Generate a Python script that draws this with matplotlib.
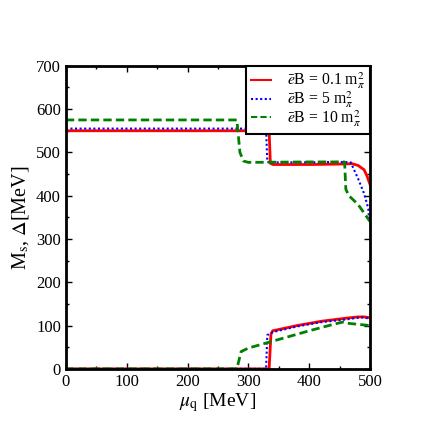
import matplotlib
matplotlib.use("Agg")
import matplotlib.pyplot as plt
from matplotlib.ticker import MultipleLocator

plt.rcParams['font.family'] = ['Liberation Serif', 'DejaVu Serif']
plt.rcParams['mathtext.fontset'] = 'stix'

# eB = 0.1 m_pi^2
mu_red_M = [0, 100, 200, 300, 334, 336, 340, 400, 450, 470, 480, 490, 495, 500]
M_red = [550, 550, 550, 550, 550, 475, 472, 472, 473, 474, 470, 460, 445, 425]
mu_red_D = [0, 100, 200, 300, 334, 337, 340, 380, 420, 460, 480, 490, 500]
D_red = [0, 0, 0, 0, 0, 80, 88, 100, 110, 117, 120, 120, 118]

# eB = 5 m_pi^2
mu_blue_M = [0, 100, 200, 300, 329, 331, 340, 400, 450, 468, 480, 490, 497, 498, 500]
M_blue = [555, 555, 555, 555, 555, 478, 477, 477, 478, 477, 440, 405, 370, 345, 340]
mu_blue_D = [0, 100, 200, 300, 329, 331, 340, 380, 420, 460, 480, 490, 500]
D_blue = [0, 0, 0, 0, 0, 78, 85, 98, 108, 114, 118, 119, 115]

# eB = 10 m_pi^2
mu_green_M = [0, 100, 200, 281, 283, 286, 292, 300, 400, 458, 460, 465, 480, 500]
M_green = [575, 575, 575, 575, 545, 500, 480, 477, 478, 478, 415, 400, 380, 340]
mu_green_D = [0, 100, 200, 281, 288, 300, 350, 400, 440, 455, 465, 500]
D_green = [0, 0, 0, 0, 40, 48, 68, 88, 103, 108, 105, 100]

fig = plt.figure(figsize=(4.36, 4.36), dpi=100)
ax = fig.add_axes([0.151, 0.154, 0.698, 0.695])

ax.plot(mu_red_M, M_red, color='red', lw=2, label=r'$\bar{e}$B = 0.1 m$_\pi^2$')
ax.plot(mu_red_D, D_red, color='red', lw=2)
ax.plot(mu_blue_M, M_blue, color='blue', lw=1.5, ls=(0, (1, 1.2)), label=r'$\bar{e}$B = 5 m$_\pi^2$')
ax.plot(mu_blue_D, D_blue, color='blue', lw=1.5, ls=(0, (1, 1.2)))
ax.plot(mu_green_M, M_green, color='green', lw=2, ls=(0, (3, 1.5)), label=r'$\bar{e}$B = 10 m$_\pi^2$')
ax.plot(mu_green_D, D_green, color='green', lw=2, ls=(0, (3, 1.5)))

ax.set_xlim(0, 500)
ax.set_ylim(0, 700)
ax.xaxis.set_major_locator(MultipleLocator(100))
ax.xaxis.set_minor_locator(MultipleLocator(50))
ax.yaxis.set_major_locator(MultipleLocator(100))
ax.yaxis.set_minor_locator(MultipleLocator(50))
ax.tick_params(which='both', direction='in', top=True, right=True, labelsize=12)
ax.tick_params(which='major', length=4, width=1)
ax.tick_params(which='minor', length=2, width=1)
for s in ax.spines.values():
    s.set_linewidth(2)

ax.set_xlabel(r'$\mu_{\rm q}$ [MeV]', fontsize=14, labelpad=1)
ax.set_ylabel(r'M$_{\rm s}$, $\Delta$[MeV]', fontsize=14.5, labelpad=4)

leg = ax.legend(loc='upper right', fontsize=11.3, fancybox=False, framealpha=1,
                edgecolor='black', borderaxespad=0, handlelength=1.3,
                handletextpad=1.0, labelspacing=-0.12, borderpad=0.3)
leg.get_frame().set_linewidth(1.5)
for h in leg.get_lines():
    h.set_linewidth(1.5)

fig.savefig('out.png', dpi=100)
